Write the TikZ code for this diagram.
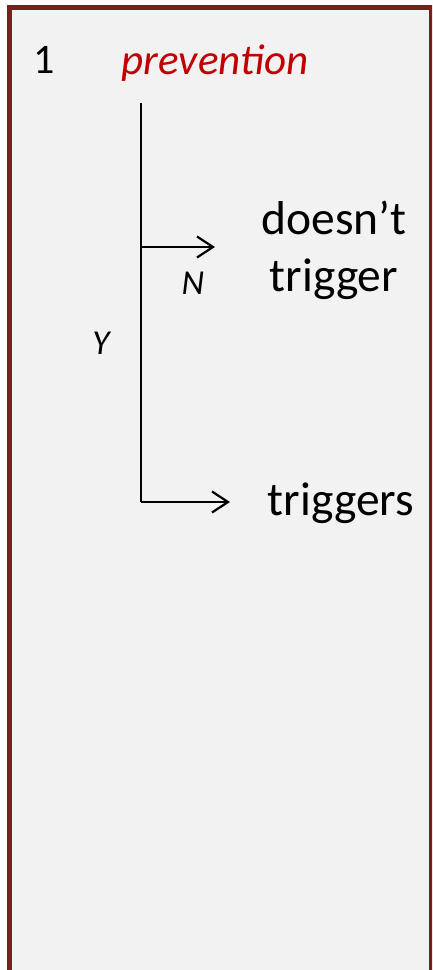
\documentclass[tikz,border=0pt]{standalone}
\usepackage{fontspec}
\setmainfont{Carlito}
\usepackage{tikz}
\usetikzlibrary{arrows.meta, positioning}
\definecolor{cFrame}{RGB}{124,30,30}
\definecolor{cPanel}{RGB}{242,242,242}
\definecolor{cRed}{RGB}{192,0,0}
\tikzset{
	panel/.style   ={draw=cFrame, line width=5pt, fill=cPanel},
	title/.style   ={font=\fontsize{43}{50}\selectfont\itshape, text=cRed, anchor=base, inner sep=0pt},
	stepnum/.style ={font=\fontsize{42}{50}\selectfont, anchor=base, inner sep=0pt},
	outcome/.style ={font=\fontsize{47.5}{57}\selectfont, align=center, inner sep=0pt},
	branch/.style  ={font=\fontsize{35}{40}\selectfont\itshape, inner sep=0pt},
	stem/.style    ={line width=2.2pt},
	choice/.style  ={-{Straight Barb[length=16pt, width=21pt]}, line width=2.2pt},
}
\begin{document}
\begin{tikzpicture}[x=1pt, y=-1pt]
	\useasboundingbox (0,0) rectangle (432,970);
	\begin{scope}
		\clip (0,0) rectangle (432,970);
		\draw[panel] (9.5,7.5) rectangle (431.5,1000);
	\end{scope}
	% heading
	\node[stepnum] (num) at (44,73) {1};
	\node[title] (prev) at (215,74) {prevention};
	% decision stem
	\coordinate (top) at (141,103);
	\coordinate (split) at (141,247);
	\coordinate (corner) at (141,502);
	\coordinate (nEnd) at (215,247);
	\coordinate (yEnd) at (230,502);
	\node[outcome] (nogo) at (334,250) {doesn’t\\trigger};
	\node[outcome, anchor=base] (go) at (341,515) {triggers};
	\draw[stem] (top) -- (corner);
	\draw[choice] (split) -- (nEnd);
	\draw[choice] (corner) -- (yEnd);
	\node[branch] (nlab) at (193,283) {N};
	\node[branch] (ylab) at (101,343) {Y};
\end{tikzpicture}
\end{document}
